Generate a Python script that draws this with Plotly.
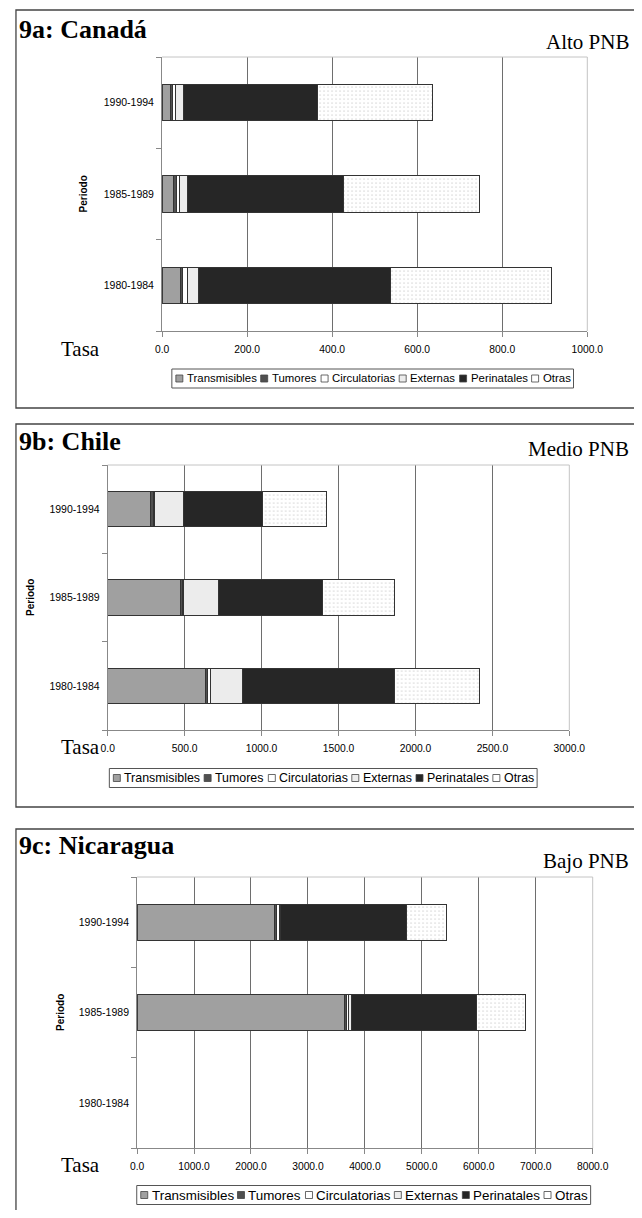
import plotly.graph_objects as go

# ---------------- data ----------------
periods = ["1980-1984", "1985-1989", "1990-1994"]
causes = ["Transmisibles", "Tumores", "Circulatorias", "Externas", "Perinatales", "Otras"]

canada_trans = [43, 26, 19.5]
canada_tum = [5, 8, 4.5]
canada_circ = [11, 7, 7]
canada_ext = [27, 19, 20]
canada_peri = [451, 367, 315]
canada_otras = [378, 320, 271]

chile_trans = [634, 472, 277]
chile_tum = [15, 13, 22]
chile_circ = [18, 5, 5]
chile_ext = [206, 233, 190]
chile_peri = [993, 671, 509]
chile_otras = [548, 468, 417]

nic_trans = [None, 3637, 2409]
nic_tum = [None, 36, 35]
nic_circ = [None, 47, 50]
nic_ext = [None, 45, 20]
nic_peri = [None, 2188, 2223]
nic_otras = [None, 865, 690]

panel_titles = ["9a: Canadá", "9b: Chile", "9c: Nicaragua"]
panel_levels = ["Alto PNB", "Medio PNB", "Bajo PNB"]
x_max = [1000, 3000, 8000]
x_dtick = [200, 500, 1000]
x_title = "Tasa"
y_title = "Periodo"

# ---------------- styles / page geometry ----------------
cause_colors = ["#a0a0a0", "#505050", "#ffffff", "#ececec", "#262626", "#ffffff"]
# observed mapping from figure pixels to the photographed page
OX, SX, OY = 14.5, 0.966, 8.0
W, H = 660, 1202
SERIF = "Liberation Serif, Times New Roman, serif"
SANS = "Liberation Sans, Arial, sans-serif"


def px(x):
    return ((x - OX) / SX) / W


def py(y):
    return 1 - (y - OY) / H


panels = [
    dict(data=[canada_trans, canada_tum, canada_circ, canada_ext, canada_peri, canada_otras],
         plot=(161.7, 587.3, 57, 331), frame=(10, 10, 408), title_y=30, level_y=42,
         tasa_y=349, per_x=84, legend_y=378.5, legend_cx=372.5, legend_fs=11.4),
    dict(data=[chile_trans, chile_tum, chile_circ, chile_ext, chile_peri, chile_otras],
         plot=(107.3, 569.3, 465, 730), frame=(10, 424, 807), title_y=441, level_y=449,
         tasa_y=747, per_x=30, legend_y=778, legend_cx=323, legend_fs=12.4),
    dict(data=[nic_trans, nic_tum, nic_circ, nic_ext, nic_peri, nic_otras],
         plot=(136.7, 592.7, 877, 1148), frame=(10, 829, 1240), title_y=845, level_y=861,
         tasa_y=1165, per_x=60, legend_y=1195, legend_cx=363.5, legend_fs=13.4),
]
FRAME_X0 = 1.0 / W          # left frame edge: first visible pixel column of the figure
FRAME_X1 = px(648)          # right frame edge

AW = {' ': 278, 'T': 611, 'r': 333, 'a': 556, 'n': 556, 's': 500, 'm': 833, 'i': 222,
      'b': 556, 'l': 222, 'e': 556, 'u': 556, 'o': 556, 'C': 722, 'c': 500, 't': 278,
      'E': 667, 'x': 500, 'P': 667, 'O': 778}


def text_w(s, fs):
    return sum(AW.get(c, 556) for c in s) / 1000.0 * fs * SX


fig = go.Figure()
shapes = []
annotations = []
layout_axes = {}

for i, p in enumerate(panels):
    sfx = "" if i == 0 else str(i + 1)
    xa, ya = "x" + sfx, "y" + sfx
    for j, cause in enumerate(causes):
        pattern = dict(shape=".", fgcolor="#b5b5b5", bgcolor="#ffffff", size=4, solidity=0.15) \
            if cause == "Otras" else dict(shape="")
        fig.add_trace(go.Bar(
            y=periods, x=p["data"][j], orientation="h", name=cause,
            marker=dict(color=cause_colors[j], line=dict(color="#333333", width=1), pattern=pattern),
            xaxis=xa, yaxis=ya, showlegend=False,
        ))
    x0, x1, y0, y1 = p["plot"]
    layout_axes["xaxis" + sfx] = dict(
        domain=[px(x0), px(x1)], anchor=ya, range=[0, x_max[i]], dtick=x_dtick[i], tick0=0,
        tickformat=".1f", showgrid=True, gridcolor="#6e6e6e", gridwidth=1, zeroline=False,
        showline=True, linecolor="#888888", linewidth=1, ticks="outside", ticklen=5,
        tickcolor="#888888", ticklabelstandoff=4,
        tickfont=dict(family=SANS, size=10.3, color="#000"), fixedrange=True,
    )
    layout_axes["yaxis" + sfx] = dict(
        domain=[py(y1), py(y0)], anchor=xa, type="category", categoryorder="array",
        categoryarray=periods, range=[-0.5, 2.5], showgrid=False, zeroline=False,
        showline=True, linecolor="#888888", linewidth=1, ticks="outside", ticklen=5,
        tickcolor="#888888", tickson="boundaries", ticklabelstandoff=5,
        tickfont=dict(family=SANS, size=10.5, color="#000"), fixedrange=True,
    )
    # light plot-area border on top and right
    shapes.append(dict(type="line", xref=xa + " domain", yref=ya + " domain", x0=0, x1=1, y0=1, y1=1,
                       line=dict(color="#c4c4c4", width=1), layer="above"))
    shapes.append(dict(type="line", xref=xa + " domain", yref=ya + " domain", x0=1, x1=1, y0=0, y1=1,
                       line=dict(color="#c4c4c4", width=1), layer="above"))
    # panel frame
    _, fy0, fy1 = p["frame"]
    shapes.append(dict(type="rect", xref="paper", yref="paper", x0=FRAME_X0, x1=FRAME_X1,
                       y0=py(fy1), y1=py(fy0), line=dict(color="#444444", width=1.3)))
    # titles
    annotations.append(dict(text="<b>" + panel_titles[i] + "</b>", xref="paper", yref="paper",
                            x=px(17), y=py(p["title_y"]), xanchor="left", yanchor="middle",
                            showarrow=False, font=dict(family=SERIF, size=26, color="#000")))
    annotations.append(dict(text=panel_levels[i], xref="paper", yref="paper",
                            x=px(631), y=py(p["level_y"]), xanchor="right", yanchor="middle",
                            showarrow=False, font=dict(family=SERIF, size=21, color="#000")))
    annotations.append(dict(text=x_title, xref="paper", yref="paper",
                            x=px(80), y=py(p["tasa_y"]), xanchor="center", yanchor="middle",
                            showarrow=False, font=dict(family=SERIF, size=21, color="#000")))
    annotations.append(dict(text="<b>" + y_title + "</b>", xref="paper", yref="paper", textangle=-90,
                            x=px(p["per_x"]), y=py((y0 + y1) / 2), xanchor="center", yanchor="middle",
                            showarrow=False, font=dict(family=SANS, size=10, color="#000")))
    # legend (box, swatches, labels)
    fs = p["legend_fs"]
    sw, g1, g2, pad = 7, 4, 6, 4
    widths = [text_w(c, fs) for c in causes]
    total = pad * 2 + sum(widths) + len(causes) * (sw + g1) + (len(causes) - 1) * g2
    cx, cy = p["legend_cx"], p["legend_y"]
    lx = cx - total / 2
    shapes.append(dict(type="rect", xref="paper", yref="paper", x0=px(lx), x1=px(lx + total),
                       y0=py(cy + 9.5), y1=py(cy - 9.5), line=dict(color="#555555", width=1),
                       fillcolor="#ffffff"))
    xx = lx + pad
    for c, col, w in zip(causes, cause_colors, widths):
        shapes.append(dict(type="rect", xref="paper", yref="paper", x0=px(xx), x1=px(xx + sw),
                           y0=py(cy + sw / 2), y1=py(cy - sw / 2), fillcolor=col,
                           line=dict(color="#444444", width=0.8)))
        annotations.append(dict(text=c, xref="paper", yref="paper", x=px(xx + sw + g1 - 1), y=py(cy),
                                xanchor="left", yanchor="middle", showarrow=False, borderpad=0,
                                font=dict(family=SANS, size=fs, color="#000")))
        xx += sw + g1 + w + g2

fig.update_layout(
    width=W, height=H, autosize=False, margin=dict(l=0, r=0, t=0, b=0),
    paper_bgcolor="#ffffff", plot_bgcolor="#ffffff",
    barmode="stack", bargap=0.6, showlegend=False,
    shapes=shapes, annotations=annotations, **layout_axes,
)

fig.write_html("out.html")
